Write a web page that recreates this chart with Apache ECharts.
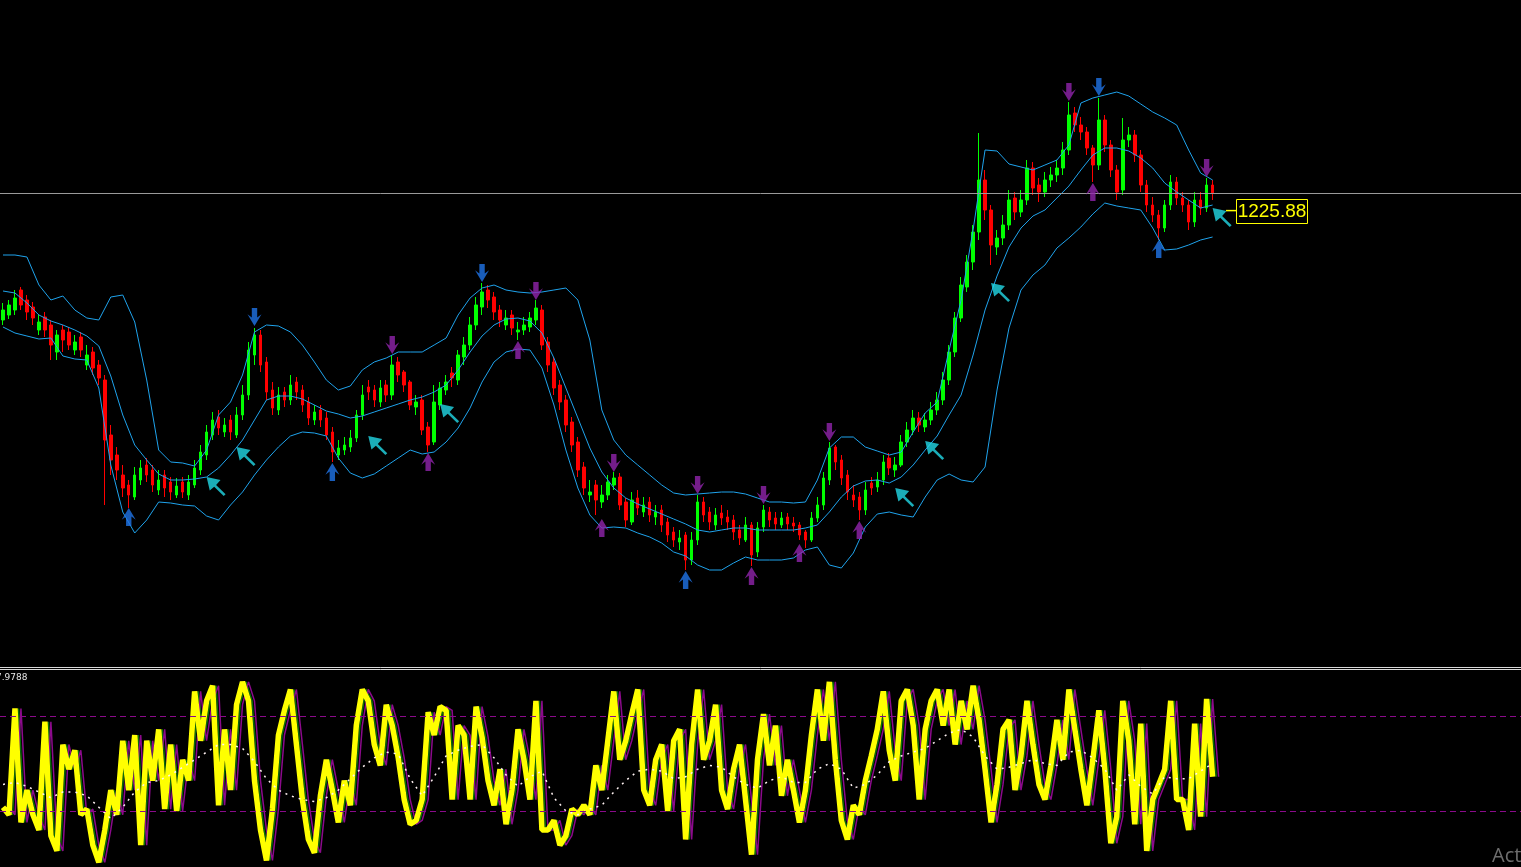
<!DOCTYPE html>
<html><head><meta charset="utf-8">
<script src="https://cdn.jsdelivr.net/npm/echarts@6/dist/echarts.min.js"></script>
<style>html,body{margin:0;padding:0;background:#000;overflow:hidden}#c{width:1521px;height:867px}</style>
</head><body><div id="c"></div>
<script>
// ---- price candles (one per slot) ----
const candleOpen = [
1204.0,1205.0,1206.0,1210.0,1208.0,1206.6,1202.0,1204.6,1203.0,1197.6,
1202.0,1201.6,1198.0,1200.6,1195.0,1197.6,1195.0,1192.0,1181.0,1177.0,
1173.0,1171.0,1168.6,1172.0,1175.0,1174.0,1170.0,1173.0,1171.6,1169.0,
1171.6,1169.0,1171.0,1174.0,1177.0,1181.0,1184.6,1181.6,1184.0,1181.0,
1185.0,1189.0,1197.0,1201.0,1195.6,1190.0,1186.0,1189.6,1188.0,1191.6,
1190.0,1187.6,1184.0,1186.0,1184.4,1181.6,1177.0,1178.0,1178.6,1180.4,
1185.0,1190.6,1190.0,1187.6,1191.0,1189.0,1195.6,1193.6,1191.6,1186.6,
1188.0,1182.6,1179.6,1187.0,1190.0,1193.4,1192.0,1196.6,1199.0,1203.0,
1206.6,1210.0,1208.6,1206.0,1203.0,1205.0,1201.6,1202.0,1202.6,1204.0,
1206.0,1199.6,1195.6,1191.0,1188.0,1183.6,1179.6,1174.6,1169.0,1171.0,
1167.6,1169.0,1171.0,1172.6,1167.6,1163.6,1168.4,1165.6,1167.6,1164.6,
1166.0,1163.6,1161.6,1159.6,1161.0,1156.0,1160.0,1167.6,1165.6,1163.0,
1165.4,1164.6,1164.0,1162.0,1160.0,1163.0,1157.6,1162.6,1165.6,1164.4,
1163.0,1164.6,1163.4,1163.0,1161.6,1160.0,1164.4,1167.0,1172.0,1178.6,
1176.0,1173.0,1169.0,1168.6,1166.0,1171.4,1170.6,1172.0,1176.4,1174.0,
1175.0,1179.6,1182.0,1184.4,1182.6,1184.0,1186.0,1188.0,1192.0,1197.6,
1204.4,1210.6,1215.6,1221.6,1232.0,1226.0,1218.6,1220.4,1223.0,1228.4,
1225.6,1228.0,1234.4,1231.0,1229.6,1232.0,1233.0,1234.4,1238.0,1245.4,
1243.0,1241.6,1238.4,1235.0,1244.0,1239.0,1234.0,1230.0,1240.0,1241.0,
1237.0,1231.0,1227.0,1225.0,1222.4,1227.0,1231.6,1228.4,1227.0,1223.6,
1228.0,1226.4,1231.0];
const candleClose = [
1206.0,1207.0,1208.4,1207.0,1205.6,1204.4,1203.6,1202.0,1199.0,1201.0,
1200.0,1199.0,1199.6,1198.0,1197.0,1194.4,1192.4,1180.0,1176.0,1174.0,
1170.4,1169.0,1173.0,1174.4,1173.0,1171.0,1172.0,1170.4,1169.6,1170.8,
1169.6,1171.6,1174.4,1177.6,1181.6,1184.0,1182.4,1183.0,1181.6,1185.0,
1189.0,1198.0,1201.0,1195.0,1189.6,1186.4,1189.0,1188.0,1191.0,1189.6,
1187.0,1184.4,1185.6,1184.0,1181.0,1177.6,1178.4,1179.0,1180.4,1185.0,
1189.0,1189.6,1188.0,1190.4,1189.0,1195.0,1193.0,1191.0,1187.0,1187.6,
1182.0,1179.0,1187.6,1190.4,1191.6,1192.4,1197.0,1199.0,1203.0,1207.0,
1209.6,1208.0,1205.6,1204.0,1204.4,1202.4,1202.0,1203.0,1204.4,1206.4,
1199.0,1195.0,1190.4,1187.6,1183.0,1179.0,1174.0,1170.4,1169.6,1168.0,
1169.0,1171.6,1172.4,1167.0,1164.0,1168.0,1166.4,1167.0,1165.0,1165.6,
1163.0,1161.0,1160.0,1160.4,1156.0,1160.0,1167.6,1165.0,1163.6,1165.0,
1164.4,1163.6,1161.6,1160.4,1163.0,1157.0,1162.4,1166.0,1164.0,1163.2,
1164.4,1163.2,1162.8,1161.0,1160.0,1164.4,1167.0,1172.4,1178.4,1175.6,
1172.4,1169.6,1168.0,1166.0,1170.0,1170.4,1172.0,1175.6,1174.4,1175.0,
1179.6,1182.0,1184.4,1183.0,1184.0,1186.0,1188.0,1192.0,1197.6,1204.4,
1211.0,1215.6,1221.6,1232.0,1226.0,1219.0,1220.4,1223.0,1228.0,1225.6,
1228.0,1234.4,1230.4,1229.6,1232.0,1233.0,1234.4,1238.0,1245.0,1243.0,
1241.6,1238.4,1235.0,1244.0,1239.0,1234.0,1229.6,1240.0,1241.0,1237.0,
1231.0,1227.0,1225.0,1222.4,1227.0,1231.6,1228.4,1227.0,1223.6,1228.0,
1226.4,1231.0,1229.4];
const candleLow = [
1203.0,1204.2,1205.0,1206.0,1204.0,1203.0,1201.0,1200.6,1196.0,1196.0,
1197.6,1198.0,1197.0,1196.6,1194.0,1193.0,1191.0,1167.0,1173.0,1172.0,
1168.6,1166.4,1168.0,1171.0,1171.6,1169.6,1169.0,1168.6,1168.0,1168.4,
1168.4,1168.0,1170.4,1173.0,1176.0,1180.0,1181.0,1180.6,1180.0,1180.4,
1184.0,1188.0,1195.0,1193.6,1188.0,1185.0,1185.0,1186.6,1187.0,1188.0,
1185.6,1183.0,1183.0,1182.6,1180.0,1175.6,1176.0,1177.0,1177.6,1179.6,
1184.0,1188.0,1186.6,1186.6,1187.6,1188.0,1191.6,1189.6,1186.0,1185.0,
1181.0,1177.6,1179.0,1186.0,1189.0,1190.6,1191.0,1195.0,1198.0,1202.0,
1205.0,1206.4,1204.0,1202.6,1202.0,1201.0,1200.0,1201.0,1201.6,1203.0,
1198.0,1193.6,1189.0,1186.0,1181.6,1177.6,1172.6,1169.0,1167.6,1165.0,
1166.4,1168.0,1170.0,1166.0,1162.6,1163.0,1165.0,1164.6,1163.6,1163.0,
1161.6,1159.6,1158.6,1158.0,1154.0,1155.0,1159.0,1163.6,1162.0,1162.0,
1163.0,1162.0,1160.0,1159.0,1159.6,1154.8,1156.6,1161.6,1162.6,1162.0,
1162.4,1162.0,1161.6,1160.0,1158.4,1159.6,1163.6,1166.0,1171.0,1174.0,
1171.0,1168.0,1166.6,1164.0,1165.0,1169.0,1169.6,1171.0,1173.0,1172.6,
1174.6,1178.6,1181.0,1181.6,1181.6,1183.0,1185.0,1187.0,1191.0,1196.6,
1203.6,1209.6,1214.0,1220.0,1224.0,1215.0,1217.0,1219.0,1222.0,1224.0,
1224.6,1227.0,1229.0,1227.6,1228.6,1230.6,1231.6,1233.0,1237.0,1241.6,
1240.0,1237.0,1231.6,1234.0,1237.6,1232.6,1228.0,1229.0,1238.6,1235.6,
1229.6,1225.6,1223.6,1220.0,1221.6,1226.0,1227.0,1225.6,1222.0,1222.6,
1225.0,1225.6,1228.0];
const candleHigh = [
1207.4,1208.0,1210.0,1210.6,1209.0,1207.6,1205.0,1205.6,1204.0,1202.0,
1203.0,1202.6,1201.0,1201.6,1199.0,1198.6,1196.0,1193.0,1183.0,1178.6,
1175.0,1172.0,1174.6,1176.0,1176.4,1175.0,1174.0,1174.0,1172.6,1172.4,
1172.6,1173.0,1176.0,1179.0,1183.0,1185.6,1186.0,1184.4,1185.0,1186.6,
1191.0,1199.6,1202.4,1202.0,1196.6,1191.6,1190.6,1190.6,1193.0,1192.6,
1191.0,1188.6,1187.0,1187.0,1185.6,1182.6,1180.0,1180.6,1182.0,1186.0,
1191.0,1192.0,1191.0,1192.0,1192.0,1197.0,1196.6,1194.0,1192.0,1189.0,
1189.0,1183.6,1191.0,1191.6,1193.0,1194.6,1198.0,1200.6,1204.6,1208.6,
1211.4,1211.0,1209.6,1207.0,1206.0,1206.0,1203.6,1204.6,1205.6,1208.0,
1207.0,1200.6,1196.6,1192.0,1189.0,1184.6,1180.6,1175.6,1172.0,1172.0,
1171.0,1173.0,1173.6,1173.4,1168.4,1169.6,1170.0,1168.6,1168.6,1167.0,
1167.0,1164.4,1162.6,1162.0,1161.6,1161.6,1169.0,1168.6,1166.6,1166.4,
1167.0,1166.0,1165.0,1163.0,1164.6,1163.6,1163.6,1167.0,1166.6,1165.6,
1165.6,1165.4,1164.6,1163.6,1162.0,1165.6,1168.6,1173.6,1179.6,1179.0,
1177.0,1174.0,1171.0,1169.6,1171.6,1172.6,1173.6,1177.0,1177.4,1176.6,
1181.0,1183.6,1186.0,1185.6,1185.4,1187.6,1189.6,1193.6,1199.0,1205.6,
1212.6,1217.0,1223.0,1241.4,1234.0,1227.0,1222.0,1225.0,1230.0,1229.6,
1230.0,1236.0,1235.6,1232.4,1233.6,1234.6,1236.0,1239.6,1247.6,1246.6,
1244.6,1242.6,1239.0,1248.4,1245.0,1240.0,1235.0,1244.4,1242.6,1242.0,
1238.0,1232.0,1228.6,1226.0,1228.0,1233.0,1232.6,1229.6,1228.0,1229.6,
1229.6,1232.4,1232.0];

// ---- Bollinger bands, sampled every second slot ----
const bandStep = 2;
const bandUpper = [
1217.0,1217.0,1216.6,1211.0,1208.0,1208.8,1206.0,1204.4,1204.0,1208.6,
1209.0,1203.6,1192.0,1178.0,1175.6,1175.4,1174.8,1178.0,1185.0,1187.6,
1193.0,1201.6,1203.0,1202.8,1201.6,1199.0,1195.6,1192.0,1190.0,1190.8,
1194.0,1195.6,1196.4,1197.6,1197.6,1197.6,1199.0,1200.4,1205.0,1208.4,
1210.4,1211.0,1210.0,1209.6,1209.4,1209.6,1210.0,1210.4,1208.0,1200.0,
1186.0,1180.0,1177.0,1175.0,1173.0,1171.0,1169.4,1169.0,1169.2,1169.4,
1169.6,1169.6,1169.2,1168.4,1167.6,1167.6,1167.4,1167.6,1172.0,1178.4,
1180.6,1180.6,1178.6,1177.8,1177.0,1177.6,1181.6,1185.4,1187.6,1198.0,
1208.0,1222.0,1238.0,1237.8,1235.2,1234.6,1234.0,1235.0,1236.0,1239.0,
1247.4,1248.4,1249.0,1249.6,1248.8,1247.2,1245.6,1244.4,1243.0,1238.0,
1233.4,1232.0];
const bandMiddle = [
1209.8,1209.4,1207.4,1205.0,1203.8,1203.0,1202.0,1200.8,1198.8,1192.8,
1185.0,1179.0,1176.0,1173.2,1172.0,1172.0,1172.2,1172.6,1174.4,1177.0,
1180.0,1184.0,1188.0,1188.8,1188.8,1188.2,1187.0,1185.8,1185.2,1184.4,
1184.8,1185.6,1186.4,1187.2,1188.0,1188.6,1189.6,1191.0,1194.0,1197.6,
1200.8,1203.0,1204.2,1204.4,1203.8,1201.4,1196.4,1190.4,1184.4,1178.4,
1173.6,1170.4,1168.4,1167.2,1166.2,1165.2,1164.2,1163.2,1162.0,1161.6,
1162.0,1162.4,1162.4,1162.0,1162.0,1162.0,1162.0,1162.4,1163.0,1165.6,
1168.6,1170.8,1171.8,1172.0,1171.4,1172.6,1175.0,1178.0,1180.8,1185.0,
1189.0,1197.0,1206.0,1212.8,1218.6,1222.4,1224.8,1226.0,1228.4,1230.8,
1234.0,1237.0,1238.4,1238.4,1237.8,1236.4,1234.4,1231.4,1229.6,1228.0,
1226.4,1227.0];
const bandLower = [
1202.6,1201.4,1200.8,1200.2,1200.4,1196.8,1196.2,1196.0,1190.4,1175.0,
1165.6,1161.4,1164.0,1167.6,1167.4,1167.0,1166.8,1164.8,1164.0,1167.0,
1169.6,1173.0,1176.0,1178.6,1180.8,1181.6,1181.4,1180.8,1176.4,1173.4,
1172.4,1173.2,1174.8,1176.4,1178.0,1177.2,1177.6,1179.6,1182.4,1186.4,
1191.6,1195.6,1197.6,1198.2,1198.0,1194.4,1187.0,1178.0,1170.4,1165.0,
1162.4,1162.6,1162.4,1161.4,1160.6,1159.4,1157.6,1156.8,1155.0,1154.0,
1154.0,1155.4,1156.6,1156.0,1156.0,1156.0,1156.4,1158.0,1158.6,1155.0,
1154.4,1157.4,1162.6,1165.2,1165.6,1165.0,1164.6,1168.6,1172.0,1173.2,
1172.0,1171.6,1174.6,1190.0,1202.4,1210.0,1213.0,1215.0,1218.4,1220.4,
1222.6,1225.2,1227.4,1226.8,1226.4,1226.0,1222.4,1218.0,1218.2,1219.0,
1220.0,1220.6];

// ---- signal arrows: [slot, price] ----
const blueDownArrows = [[42,1204.6],[80,1213.4],[183,1250.6]];
const blueUpArrows = [[21,1164.6],[55,1173.6],[114,1152.0],[193,1218.2]];
const purpleDownArrows = [[65,1199.0],[89,1209.8],[102,1175.4],[116,1171.0],[127,1169.0],[138,1181.6],[178,1249.6],[201,1234.4]];
const purpleUpArrows = [[71,1175.6],[86,1198.0],[100,1162.4],[125,1152.8],[133,1157.4],[143,1162.0],[182,1229.6]];
const cyanArrows = [[34,1172.6],[39,1178.6],[61,1180.8],[73,1187.2],[149,1170.4],[154,1179.8],[165,1211.4],[202,1226.4]];

// ---- levels ----
const priceLine = 1229.4;
const labelPrice = 1225.88;
const labelText = '1225.88';
const oscCaption = '7.9788';
const oscLevels = [75, 25];

// ---- oscillator (one per slot) ----
const oscMain = [
27,23,79,19,36,23,15,72,12,4,
60,47,57,23,26,7,-2,15,36,23,
62,36,65,7,62,41,68,26,60,25,
52,41,88,62,83,91,28,68,36,81,
93,83,41,15,-1,26,65,78,89,60,
31,10,3,33,52,36,19,41,28,70,
89,83,60,49,81,70,53,31,18,20,
31,77,65,80,78,31,70,65,31,80,
64,41,28,47,18,36,68,52,31,83,
15,15,20,7,12,26,23,28,23,49,
36,62,88,52,62,76,89,36,28,52,
60,25,62,68,10,60,89,52,62,81,
36,26,47,60,31,2,52,76,49,70,
33,52,36,19,36,65,89,62,93,52,
20,10,28,23,41,54,68,88,57,41,
83,89,70,31,68,83,89,70,89,60,
83,68,91,73,47,19,39,68,73,36,
54,83,60,39,31,49,73,52,89,68,
47,28,52,78,47,8,22,83,62,18,
71,4,31,39,47,83,31,31,15,71,
22,84,43];
const signalLagGreen = 0.6;
const signalLagPurple = 1.0;
// slow line, every second slot
const oscSlow = [
39,40,38,35,32,35,35,33,27,21,
27,35,40,41,44,48,52,56,60,60,
58,51,42,36,33,31,30,32,36,42,
48,53,56,55,42,33,43,54,57,59,
60,53,44,38,43,46,32,25,23,26,
28,35,41,46,47,46,42,43,47,49,
48,43,39,37,41,43,40,40,47,50,
47,37,39,44,51,54,56,58,62,66,
68,64,54,47,48,50,52,50,49,56,
57,53,47,36,44,38,34,43,42,42,
46,50];

const slotCount = 254;
const slotLabels = Array.from({length: slotCount}, (_, i) => String(i));

const candleData = candleOpen.map((o, i) => [o, candleClose[i], candleLow[i], candleHigh[i]]);
const sampled = arr => arr.map((v, j) => [j * bandStep, v]);
const lagged = (arr, lag) => arr.map((v, i) => [i + lag, v]);

const ARROW_DOWN = 'path://M4,0 L9,0 L9,9 L13,6 L6.5,17 L0,6 L4,9 Z';
const ARROW_UP = 'path://M6.5,0 L13,11 L9,8 L9,17 L4,17 L4,8 L0,11 Z';
const CURSOR = 'path://M0,0 L11,2.5 L7.5,6.5 L15,14 L13.5,15.5 L6,8 L2.5,11 Z';

const chart = echarts.init(document.getElementById('c'));
const bandLine = (name, data) => ({
  name, type: 'line', xAxisIndex: 1, yAxisIndex: 0, data, symbol: 'none', smooth: false,
  lineStyle: {color: '#1fa3ec', width: 1}, z: 3, silent: true
});
const arrowSeries = (data, sym, color, size, offset) => ({
  type: 'scatter', xAxisIndex: 1, yAxisIndex: 0, data, symbol: sym, symbolSize: size,
  symbolOffset: offset || [0, 0], itemStyle: {color}, z: 5, silent: true
});

chart.setOption({
  backgroundColor: '#000',
  animation: false,
  grid: [
    {left: 0, right: 0, top: 0, height: 665},
    {left: 0, right: 0, top: 672, height: 195}
  ],
  xAxis: [
    {type: 'category', gridIndex: 0, data: slotLabels, boundaryGap: true, show: false},
    {type: 'value', gridIndex: 0, min: -0.5, max: slotCount - 0.5, show: false},
    {type: 'value', gridIndex: 1, min: -0.5, max: slotCount - 0.5, show: false}
  ],
  yAxis: [
    {type: 'value', gridIndex: 0, min: 1135, max: 1268, show: false, scale: true},
    {type: 'value', gridIndex: 1, min: -4.5, max: 98.2, show: false}
  ],
  series: [
    {
      type: 'candlestick', xAxisIndex: 0, yAxisIndex: 0, data: candleData, barWidth: 3,
      itemStyle: {color: '#00ff00', color0: '#ff0000', borderColor: '#00ff00', borderColor0: '#ff0000', borderWidth: 1},
      z: 2, silent: true,
      markLine: {silent: true, symbol: 'none', label: {show: false},
        lineStyle: {color: '#9a9a9a', width: 1, type: 'solid'}, data: [{yAxis: priceLine}]}
    },
    bandLine('upper', sampled(bandUpper)),
    bandLine('middle', sampled(bandMiddle)),
    bandLine('lower', sampled(bandLower)),
    arrowSeries(blueDownArrows, ARROW_DOWN, '#1f74e8', [14, 18]),
    arrowSeries(blueUpArrows, ARROW_UP, '#1f74e8', [14, 18]),
    arrowSeries(purpleDownArrows, ARROW_DOWN, '#9124ad', [14, 18]),
    arrowSeries(purpleUpArrows, ARROW_UP, '#9124ad', [14, 18]),
    arrowSeries(cyanArrows, CURSOR, '#22d8e6', [19, 19], [9.5, 9.5]),
    {
      type: 'line', xAxisIndex: 2, yAxisIndex: 1, data: lagged(oscMain, signalLagGreen), symbol: 'none',
      lineStyle: {color: '#0a6e0a', width: 1.5}, z: 2, silent: true
    },
    {
      type: 'line', xAxisIndex: 2, yAxisIndex: 1, data: lagged(oscMain, signalLagPurple), symbol: 'none',
      lineStyle: {color: '#8b0a8b', width: 1.5}, z: 2, silent: true
    },
    {
      type: 'line', xAxisIndex: 2, yAxisIndex: 1, data: lagged(oscMain, 0), symbol: 'none',
      lineStyle: {color: '#ffff00', width: 5.5, join: 'bevel'}, z: 3, silent: true,
      markLine: {silent: true, symbol: 'none', label: {show: false},
        lineStyle: {color: '#8b0a8b', width: 1, type: [6, 4]}, data: oscLevels.map(v => ({yAxis: v}))}
    },
    {
      type: 'line', xAxisIndex: 2, yAxisIndex: 1, data: sampled(oscSlow), symbol: 'none',
      lineStyle: {color: '#fff2f2', width: 1.5, type: [2, 5]}, z: 4, silent: true
    }
  ]
});

const yLab = chart.convertToPixel({yAxisIndex: 0}, labelPrice);
chart.setOption({
  graphic: [
    {type: 'line', shape: {x1: 0, y1: 667.5, x2: 1521, y2: 667.5}, style: {stroke: '#d8d8d8', lineWidth: 1}, silent: true},
    {type: 'line', shape: {x1: 0, y1: 669.5, x2: 1521, y2: 669.5}, style: {stroke: '#d8d8d8', lineWidth: 1}, silent: true},
    {type: 'text', left: -4, top: 673, style: {text: oscCaption, fill: '#e6e6e6', font: '9px "DejaVu Sans", sans-serif'}, silent: true},
    {type: 'line', shape: {x1: 1226, y1: yLab, x2: 1236, y2: yLab}, style: {stroke: '#ffff00', lineWidth: 1.5}, silent: true},
    {type: 'rect', shape: {x: 1236.5, y: Math.round(yLab) - 11.5, width: 71, height: 24}, style: {fill: '#000', stroke: '#ffff00', lineWidth: 1}, silent: true},
    {type: 'text', x: 1272, y: Math.round(yLab) + 0.5, style: {text: labelText, fill: '#ffff00', font: '19px "Liberation Sans", Arial, sans-serif', textAlign: 'center', textVerticalAlign: 'middle'}, silent: true},
    {type: 'text', x: 1492, y: 866, style: {text: 'Activate Windows', fill: '#6e6e6e', font: '20px "Open Sans", sans-serif', textVerticalAlign: 'bottom'}, silent: true}
  ]
});
</script>
</body></html>
